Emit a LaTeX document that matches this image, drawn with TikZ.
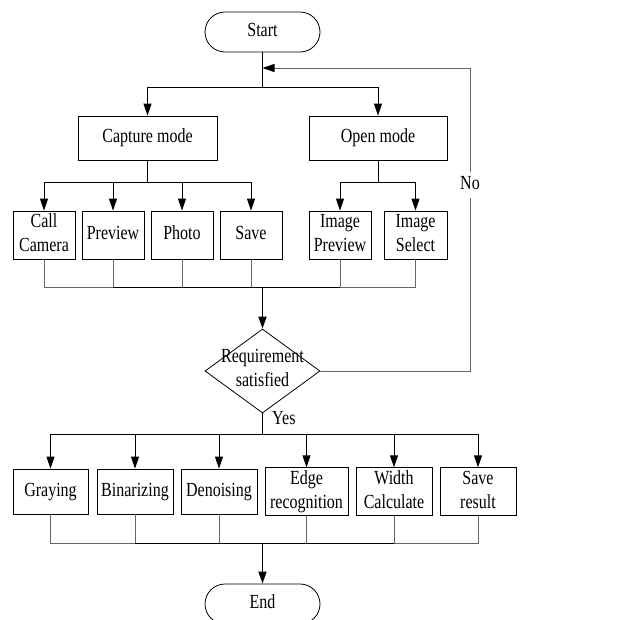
\documentclass[tikz,border=0pt]{standalone}
\usepackage{fontspec}
\setmainfont{Liberation Serif}
\usetikzlibrary{arrows.meta,shapes.geometric}
\newcommand{\tx}[1]{\scalebox{1}[1.25]{\begin{tabular}{@{}c@{}}#1\end{tabular}}}
\begin{document}
\begin{tikzpicture}[x=1pt,y=-1pt,
  box/.style={draw,rectangle,inner sep=0pt,align=center,font=\fontsize{16}{19}\selectfont,line width=0.8pt},
  term/.style={box,rounded corners=20pt,minimum width=115pt,minimum height=40pt},
  ln/.style={line width=0.9pt},
  gl/.style={line width=0.9pt,draw=black!60},
  arr/.style={ln,-{Triangle[length=12pt,width=8pt]}},
  tarr/.style={line width=1.8pt,-{Triangle[length=12pt,width=8pt]}},
  lbl/.style={inner sep=1pt,font=\fontsize{16}{19}\selectfont}]
\useasboundingbox (0,0) rectangle (643,619);
% top
\node[term] (start) at (262.5,32) {\tx{Start}};
\node[box,minimum width=139pt,minimum height=44pt] (cap) at (147.5,138) {\tx{Capture mode}};
\node[box,minimum width=138pt,minimum height=44pt] (open) at (378,138) {\tx{Open mode}};
\coordinate (loop) at (262.5,68);
\coordinate (j1) at (262.5,87);
\draw[ln] (start.south) -- (j1);
\draw[arr] (j1) -| (cap.north);
\draw[arr] (j1) -| (open.north);
% second row
\foreach \n/\x/\w/\t in {cc/44/62/{Call\\Camera}, pv/113/62/Preview, ph/182/62/Photo, sv/251/62/Save, ip/340/62/{Image\\Preview}, is/415.5/63/{Image\\Select}}{
  \node[box,minimum width=\w pt,minimum height=48pt] (\n) at (\x,235) {\tx{\t}};
}
\coordinate (c1) at (147.5,182);
\coordinate (o1) at (378,182);
\draw[ln] (cap.south) -- (c1);
\draw[ln] (open.south) -- (o1);
\foreach \n in {cc,pv,ph,sv}{\draw[arr] (c1) -| (\n.north);}
\foreach \n in {ip,is}{\draw[arr] (o1) -| (\n.north);}
\coordinate (m1) at (262.5,287);
\foreach \n in {cc,pv,ph,sv,ip,is}{\draw[gl] (\n.south) |- (m1);}
\draw[ln] (pv.south|-m1) -- (ip.south|-m1);
% diamond
\node[draw,diamond,inner sep=0pt,minimum width=115pt,minimum height=84pt,line width=0.8pt] (dia) at (262.5,371) {};
\node[lbl,align=center] (dtext) at (262.5,370) {\tx{Requirement\\satisfied}};
\draw[tarr] (m1) -- (dia.north);
\coordinate (n1) at (470,371);
\coordinate (n2) at (470,68);
\draw[gl] (dia.east) -- (n1) -- (n2);
\draw[gl,-{Triangle[length=12pt,width=8pt,color=black]}] (n2) -- (loop);
\node[lbl,fill=white] (no) at (470,185) {\tx{No}};
% yes
\coordinate (y1) at (262.5,434);
\draw[ln] (dia.south) -- (y1);
\node[lbl,anchor=west] (yes) at (271,420) {\tx{Yes}};
\foreach \n/\x/\w/\t in {gr/50.5/75/Graying, bi/135/76/Binarizing, de/219/76/Denoising, ed/306.5/83/{Edge\\recognition}, wi/394/76/{Width\\Calculate}, sr/478/76/{Save\\result}}{
  \node[box,minimum width=\w pt,minimum height=45pt] (\n) at (\x,491.5) {\tx{\t}};
  \draw[arr] (y1) -| (\n.north);
}
\coordinate (m2) at (262.5,543);
\foreach \n in {gr,bi,de,ed,wi,sr}{\draw[gl] (\n.south) |- (m2);}
\draw[ln] (bi.south|-m2) -- (wi.south|-m2);
\node[term] (end) at (262.5,604) {\tx{End}};
\draw[tarr] (m2) -- (end.north);
\end{tikzpicture}
\end{document}
